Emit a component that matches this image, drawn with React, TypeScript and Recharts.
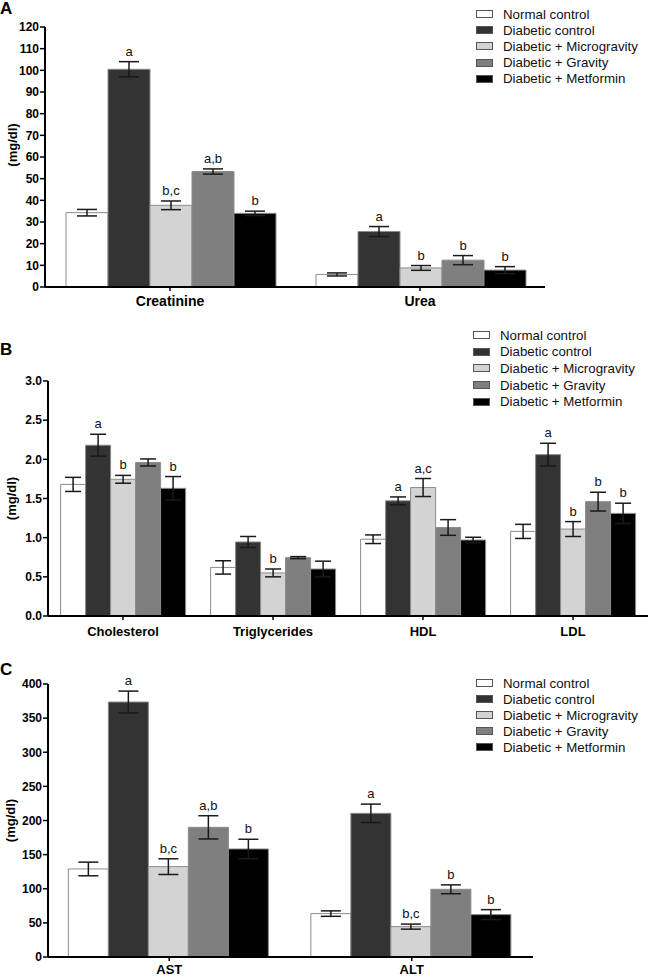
import React from "react";
import { BarChart, Bar, XAxis, YAxis, ErrorBar, LabelList } from "recharts";

const groups = [
  "Normal control",
  "Diabetic control",
  "Diabetic + Microgravity",
  "Diabetic + Gravity",
  "Diabetic + Metformin",
];
const fills = ["#ffffff", "#333333", "#d3d3d3", "#7f7f7f", "#000000"];

// panel A: kidney
const catsA = ["Creatinine", "Urea"];
const meanA = [[34.3, 5.8], [100.5, 25.6], [37.7, 8.8], [53.3, 12.4], [34.0, 7.8]];
const errA = [[1.5, 0.7], [3.5, 2.3], [2.0, 1.1], [1.2, 2.1], [1.0, 1.6]];
const labA = [["", ""], ["a", "a"], ["b,c", "b"], ["a,b", "b"], ["b", "b"]];
const ticksA = [0, 10, 20, 30, 40, 50, 60, 70, 80, 90, 100, 110, 120];

// panel B: lipids
const catsB = ["Cholesterol", "Triglycerides", "HDL", "LDL"];
const meanB = [
  [1.68, 0.62, 0.98, 1.08],
  [2.18, 0.945, 1.47, 2.06],
  [1.745, 0.55, 1.64, 1.11],
  [1.96, 0.745, 1.13, 1.46],
  [1.63, 0.6, 0.97, 1.31],
];
const errB = [
  [0.09, 0.085, 0.055, 0.09],
  [0.14, 0.07, 0.05, 0.145],
  [0.05, 0.05, 0.115, 0.095],
  [0.045, 0.013, 0.1, 0.12],
  [0.15, 0.1, 0.035, 0.13],
];
const labB = [
  ["", "", "", ""],
  ["a", "", "a", "a"],
  ["b", "b", "a,c", "b"],
  ["", "", "", "b"],
  ["b", "", "", "b"],
];
const ticksB = [0, 0.5, 1, 1.5, 2, 2.5, 3];

// panel C: liver enzymes
const catsC = ["AST", "ALT"];
const meanC = [[129, 63.6], [373.6, 210.5], [132.4, 44.5], [190, 99.2], [158.3, 62.1]];
const errC = [[10, 4], [16, 13.5], [11.5, 3.7], [17, 6.5], [14.2, 7.3]];
const labC = [["", ""], ["a", "a"], ["b,c", "b,c"], ["a,b", "b"], ["b", "b"]];
const ticksC = [0, 50, 100, 150, 200, 250, 300, 350, 400];

const font = "'Liberation Sans', Arial, Helvetica, sans-serif";

function sigLabel(p: any, vals: number[], errs: number[]) {
  if (!p.value) return null;
  const vb = p.viewBox && p.viewBox.width !== undefined ? p.viewBox : p;
  const i = p.index;
  const h = Math.abs(vb.height);
  const yTop = Math.min(vb.y, vb.y + vb.height);
  const capY = yTop - (errs[i] / vals[i]) * h;
  return (
    <text
      x={vb.x + vb.width / 2}
      y={capY - 6}
      textAnchor="middle"
      fontSize={13}
      fontFamily={font}
      fill="#111"
    >
      {p.value}
    </text>
  );
}

function Key({ left, top, rowH }: { left: number; top: number; rowH: number }) {
  return (
    <div style={{ position: "absolute", left, top, fontFamily: font, fontSize: 13.3, color: "#111" }}>
      {groups.map((g, k) => (
        <div key={g} style={{ height: rowH, display: "flex", alignItems: "center", whiteSpace: "nowrap" }}>
          <span
            style={{
              display: "inline-block",
              boxSizing: "border-box",
              width: 17,
              height: 8,
              background: fills[k],
              border: "1px solid #555",
              marginRight: 10,
            }}
          />
          {g}
        </div>
      ))}
    </div>
  );
}

function Panel(props: any) {
  const { cats, mean, err, lab, ticks, top, height, plotTop, right, yw, xh, tm, xf, cap, titleX, titleDy, dec } = props;
  const rows = cats.map((name: string, i: number) => {
    const r: any = { name };
    groups.forEach((_, g) => {
      r[`v${g}`] = mean[g][i];
      r[`e${g}`] = err[g][i];
      r[`l${g}`] = lab[g][i];
    });
    return r;
  });
  return (
    <div style={{ position: "absolute", left: 0, top, width: 650, height }}>
      <BarChart
        width={650}
        height={height}
        data={rows}
        margin={{ top: plotTop, right, bottom: 0, left: 0 }}
        barCategoryGap="8.4%"
        barGap={0}
      >
        <XAxis
          dataKey="name"
          height={xh}
          interval={0}
          axisLine={{ stroke: "#000", strokeWidth: 2 }}
          tickLine={{ stroke: "#000", strokeWidth: 1.5 }}
          tickSize={4}
          tickMargin={tm}
          tick={{ fill: "#000", fontSize: xf, fontWeight: 700, fontFamily: font }}
        />
        <YAxis
          width={yw}
          domain={[ticks[0], ticks[ticks.length - 1]]}
          ticks={ticks}
          interval={0}
          axisLine={{ stroke: "#000", strokeWidth: 2 }}
          tickLine={{ stroke: "#000", strokeWidth: 1.5 }}
          tickSize={5}
          tickMargin={1}
          tickFormatter={(v: number) => v.toFixed(dec)}
          tick={{ fill: "#000", fontSize: 12, fontWeight: 700, fontFamily: font }}
          label={{
            value: "(mg/dl)",
            position: "center",
            content: (p: any) => {
              const vb = p.viewBox || { y: plotTop, height: height - plotTop - xh };
              const cy = vb.y + vb.height / 2 + titleDy;
              return (
                <text
                  x={titleX}
                  y={cy}
                  transform={`rotate(-90 ${titleX} ${cy})`}
                  textAnchor="middle"
                  dominantBaseline="central"
                  fontWeight={700}
                  fontSize={13}
                  fontFamily={font}
                  fill="#000"
                >
                  (mg/dl)
                </text>
              );
            },
          }}
        />
        {groups.map((g, k) => (
          <Bar
            key={g}
            dataKey={`v${k}`}
            name={g}
            fill={fills[k]}
            stroke="#8c8c8c"
            strokeWidth={1}
            isAnimationActive={false}
          >
            <ErrorBar dataKey={`e${k}`} width={cap} stroke="#1a1a1a" strokeWidth={1.5} isAnimationActive={false} />
            <LabelList dataKey={`l${k}`} content={(p: any) => sigLabel(p, mean[k], err[k])} />
          </Bar>
        ))}
      </BarChart>
    </div>
  );
}

const letter = (t: string, top: number) => (
  <div style={{ position: "absolute", left: 0, top, fontFamily: font, fontWeight: 700, fontSize: 17, lineHeight: "17px" }}>
    {t}
  </div>
);

export default function App() {
  return (
    <div style={{ position: "absolute", left: 0, top: 0, width: 650, height: 976, background: "#fff", fontFamily: font }}>
      <Panel
        cats={catsA} mean={meanA} err={errA} lab={labA} ticks={ticksA} dec={0}
        top={0} height={310} plotTop={27} right={105} yw={45} xh={23} tm={5} xf={14} cap={10} titleX={12} titleDy={-12}
      />
      <Panel
        cats={catsB} mean={meanB} err={errB} lab={labB} ticks={ticksB} dec={1}
        top={320} height={320} plotTop={61} right={2} yw={48} xh={24} tm={7} xf={13} cap={8} titleX={11} titleDy={0}
      />
      <Panel
        cats={catsC} mean={meanC} err={errC} lab={labC} ticks={ticksC} dec={0}
        top={640} height={336} plotTop={44} right={117} yw={48} xh={19} tm={4} xf={13} cap={10} titleX={10} titleDy={0}
      />
      {letter("A", 0)}
      {letter("B", 341)}
      {letter("C", 661)}
      <Key left={476} top={6} rowH={16.2} />
      <Key left={473} top={327} rowH={16.6} />
      <Key left={476} top={675} rowH={16.1} />
    </div>
  );
}
